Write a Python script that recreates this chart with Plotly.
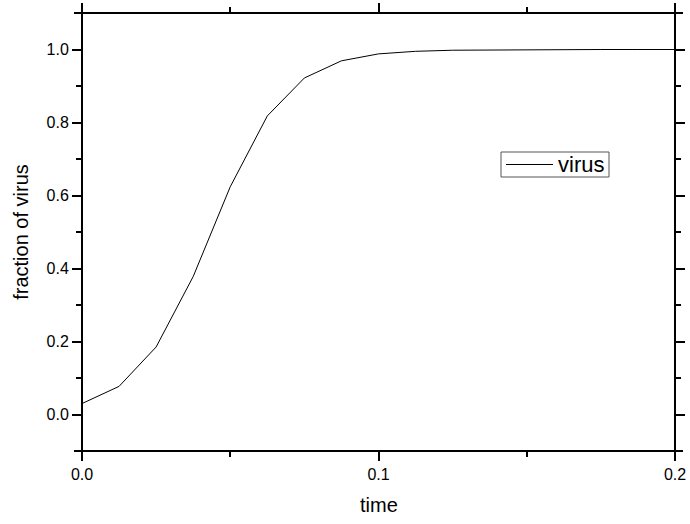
import plotly.graph_objects as go

# Time samples and the simulated fraction of infected population
time = [0.0, 0.0125, 0.025, 0.0375, 0.05, 0.0625, 0.075, 0.0875, 0.1,
        0.1125, 0.125, 0.1375, 0.15, 0.1625, 0.175, 0.1875, 0.2]
virus = [0.030, 0.077, 0.185, 0.378, 0.624, 0.818, 0.922, 0.969, 0.988,
         0.995, 0.998, 0.999, 1.0, 1.0, 1.0, 1.0, 1.0]

x_ticks = [0.0, 0.1, 0.2]
x_tick_text = ["0.0", "0.1", "0.2"]
y_ticks = [0.0, 0.2, 0.4, 0.6, 0.8, 1.0]
y_tick_text = ["0.0", "0.2", "0.4", "0.6", "0.8", "1.0"]
series_name = "virus"
x_title = "time"
y_title = "fraction of virus"

FONT = "Arial, Liberation Sans, sans-serif"
W, H = 690, 524
M = dict(l=82, r=15, t=13, b=73)
pw = W - M["l"] - M["r"]
ph = H - M["t"] - M["b"]
ext = 8  # frame lines run a few pixels past the corners
ex, ey = ext / pw, ext / ph


def px_x(p):
    """Pixel column -> paper x."""
    return (p - M["l"]) / pw


def px_y(p):
    """Pixel row -> paper y."""
    return (H - M["b"] - p) / ph


fig = go.Figure()
fig.add_trace(go.Scatter(
    x=time, y=virus, mode="lines", name=series_name,
    line=dict(color="black", width=1), showlegend=False,
))

axis_common = dict(
    showgrid=False, zeroline=False, showline=False, automargin=False,
    ticks="outside", ticklen=9, tickwidth=1.5, tickcolor="black",
    mirror="ticks",
    tickfont=dict(family=FONT, size=16, color="black"),
)

fig.update_xaxes(
    range=[0, 0.2], tickvals=x_ticks, ticktext=x_tick_text,
    minor=dict(ticks="outside", ticklen=5, tickwidth=1.5, tickcolor="black", dtick=0.05, tick0=0),
    **axis_common,
)
fig.update_yaxes(
    range=[-0.1, 1.1], tickvals=y_ticks, ticktext=y_tick_text,
    minor=dict(ticks="outside", ticklen=5, tickwidth=1.5, tickcolor="black", dtick=0.1, tick0=0),
    title=dict(text=y_title, font=dict(family=FONT, size=20, color="black"), standoff=12),
    **axis_common,
)

# x-axis title placed just under the tick labels
fig.add_annotation(xref="paper", yref="paper", x=0.5, y=px_y(505),
                   xanchor="center", yanchor="middle", showarrow=False,
                   text=x_title, font=dict(family=FONT, size=20, color="black"))

# Frame drawn as four lines that overshoot the corners
frame = [
    (-ex, 0, 1 + ex, 0),
    (-ex, 1, 1 + ex, 1),
    (0, -ey, 0, 1 + ey),
    (1, -ey, 1, 1 + ey),
]
for x0, y0, x1, y1 in frame:
    fig.add_shape(type="line", xref="paper", yref="paper",
                  x0=x0, y0=y0, x1=x1, y1=y1,
                  line=dict(color="black", width=2))

# Compact legend box: border, line sample and label
fig.add_shape(type="rect", xref="paper", yref="paper",
              x0=px_x(501), x1=px_x(609), y0=px_y(177), y1=px_y(152),
              line=dict(color="#555555", width=1), fillcolor="white", layer="above")
fig.add_shape(type="line", xref="paper", yref="paper",
              x0=px_x(506), x1=px_x(553), y0=px_y(164.5), y1=px_y(164.5),
              line=dict(color="black", width=1), layer="above")
fig.add_annotation(xref="paper", yref="paper", x=px_x(556), y=px_y(164.5),
                   xanchor="left", yanchor="middle", showarrow=False,
                   text=series_name, font=dict(family=FONT, size=22, color="black"))

fig.update_layout(
    width=W, height=H, margin=M,
    paper_bgcolor="white", plot_bgcolor="white",
    showlegend=False,
)

fig.write_html("out.html")
